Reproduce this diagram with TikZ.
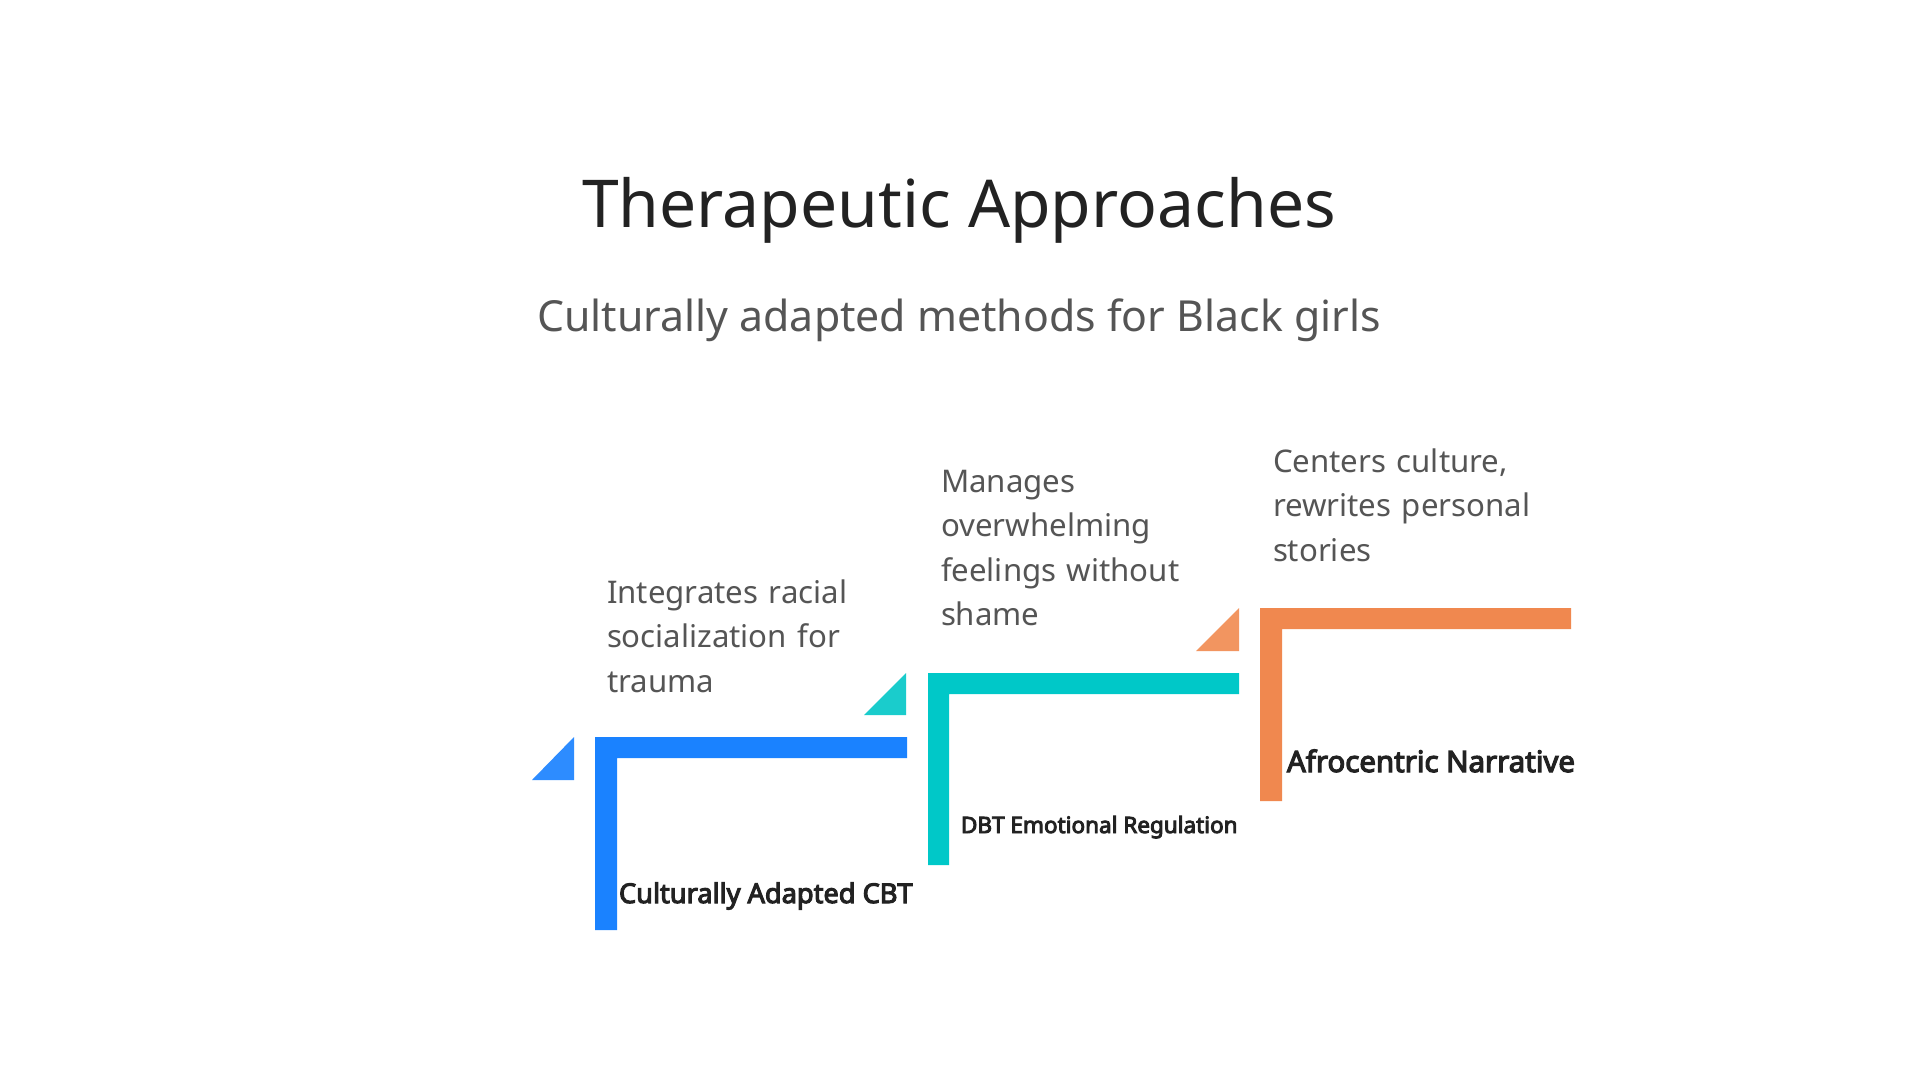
\documentclass[tikz,border=0pt]{standalone}
\usepackage{fontspec}
\setmainfont{Noto Sans}
\newfontfamily\lblfont{Noto Sans}[FakeBold=4]
\begin{document}
\begin{tikzpicture}[x=0.5pt,y=-0.5pt,
  every node/.style={inner sep=0pt,outer sep=0pt},
  title/.style={font=\fontsize{33pt}{40pt}\selectfont,text=titlec,anchor=base},
  subtitle/.style={font=\fontsize{21.4pt}{26pt}\selectfont,text=subc,anchor=base},
  desc/.style={font=\fontsize{15.6pt}{22.25pt}\selectfont,text=descc,anchor=base west,align=left,text width=160pt},
  lbl/.style={text=labc,anchor=base west}
]
\definecolor{titlec}{HTML}{222222}
\definecolor{subc}{HTML}{555555}
\definecolor{descc}{HTML}{555555}
\definecolor{labc}{HTML}{222222}
\definecolor{blueL}{HTML}{1A82FF}
\definecolor{blueT}{HTML}{2D8CFF}
\definecolor{tealL}{HTML}{00C8C8}
\definecolor{tealT}{HTML}{1ACCCC}
\definecolor{oraL}{HTML}{F0884F}
\definecolor{oraT}{HTML}{F29560}
\useasboundingbox[fill=white] (0,0) rectangle (1920,1080);

\node[title] (title) at (959,228) {Therapeutic Approaches};
\node[subtitle] (sub) at (959,332) {Culturally adapted methods for Black girls};

% step 1 (blue)
\fill[blueT] (532,780) -- (574,737) -- (574,780) -- cycle;
\fill[blueL] (595,930) -- (595,737) -- (907,737) -- (907,758) -- (617,758) -- (617,930) -- cycle;
\node[lbl,font=\lblfont\fontsize{13.6pt}{16pt}\selectfont] (l1) at (619,903) {Culturally Adapted CBT};
\node[desc] (d1) at (607,603) {Integrates racial\\socialization for\\trauma};

% step 2 (teal)
\fill[tealT] (864,715) -- (906,673) -- (906,715) -- cycle;
\fill[tealL] (928,865) -- (928,673) -- (1239,673) -- (1239,694) -- (949,694) -- (949,865) -- cycle;
\node[lbl,font=\lblfont\fontsize{11.25pt}{14pt}\selectfont] (l2) at (961,833) {DBT Emotional Regulation};
\node[desc] (d2) at (941,492) {Manages\\overwhelming\\feelings without\\shame};

% step 3 (orange)
\fill[oraT] (1196,651) -- (1239,608) -- (1239,651) -- cycle;
\fill[oraL] (1260,801) -- (1260,608) -- (1571,608) -- (1571,629) -- (1282,629) -- (1282,801) -- cycle;
\node[lbl,font=\lblfont\fontsize{14.7pt}{18pt}\selectfont] (l3) at (1287,772) {Afrocentric Narrative};
\node[desc] (d3) at (1273,472) {Centers culture,\\rewrites personal\\stories};
\end{tikzpicture}
\end{document}
